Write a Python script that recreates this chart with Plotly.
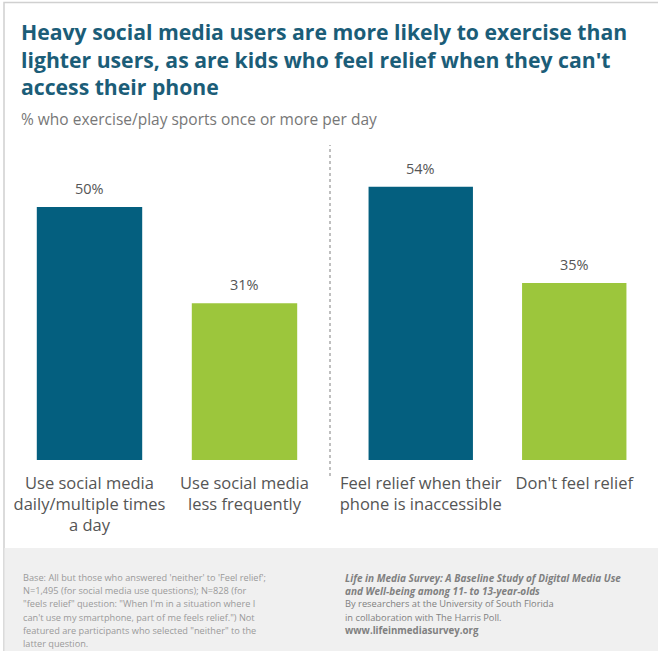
import plotly.graph_objects as go

# Survey results: % who exercise/play sports once or more per day
media_labels = ["Use social media<br>daily/multiple times<br>a day", "Use social media<br>less frequently"]
media_values = [50, 31]
relief_labels = ["Feel relief when their<br>phone is inaccessible", "Don't feel relief"]
relief_values = [54, 35]

base_note_lines = [
    "Base: All but those who answered 'neither' to 'Feel relief';",
    "N=1,495 (for social media use questions); N=828 (for",
    "\"feels relief\" question: \"When I'm in a situation where I",
    "can't use my smartphone, part of me feels relief.\") Not",
    "featured are participants who selected \"neither\" to the",
    "latter question.",
]
source_lines = [
    ("<b><i>Life in Media Survey: A Baseline Study of Digital Media Use</i></b>", 10),
    ("<b><i>and Well-being among 11- to 13-year-olds</i></b>", 10),
    ("By researchers at the University of South Florida", 9.3),
    ("in collaboration with The Harris Poll.", 9.3),
    ("<b>www.lifeinmediasurvey.org</b>", 9.7),
]

TEAL = "#045f7f"
GREEN = "#9cc63c"
LABEL_GRAY = "#555555"

W, H = 658, 651
BASE_PX = 460          # baseline of bars (px from top)
PX_PER_PCT = 5.06
Y_MAX = 60

y0 = (H - BASE_PX) / H
y1 = (H - (BASE_PX - Y_MAX * PX_PER_PCT)) / H

fig = go.Figure()
fig.add_trace(go.Bar(x=media_labels, y=media_values, marker=dict(color=[TEAL, GREEN], line=dict(width=0)),
                     xaxis="x", yaxis="y", hoverinfo="skip"))
fig.add_trace(go.Bar(x=relief_labels, y=relief_values, marker=dict(color=[TEAL, GREEN], line=dict(width=0)),
                     xaxis="x2", yaxis="y2", hoverinfo="skip"))

axis_common = dict(showgrid=False, zeroline=False, showline=False, ticks="", ticklabelstandoff=11,
                   automargin=False,
                   tickfont=dict(family="Open Sans", size=16.5, color=LABEL_GRAY), fixedrange=True)
yaxis_common = dict(range=[0, Y_MAX], visible=False, fixedrange=True, domain=[y0, y1], automargin=False)

fig.update_layout(
    width=W, height=H,
    margin=dict(l=0, r=0, t=0, b=0),
    paper_bgcolor="white", plot_bgcolor="rgba(0,0,0,0)",
    showlegend=False, bargap=0.32,
    xaxis=dict(domain=[12 / W, 322 / W], **axis_common),
    xaxis2=dict(domain=[344 / W, 651 / W], anchor="y2", **axis_common),
    yaxis=dict(anchor="x", **yaxis_common),
    yaxis2=dict(anchor="x2", **yaxis_common),
    font=dict(family="Open Sans"),
)

# value labels above bars
for xa, ya, cats, vals in [("x", "y", media_labels, media_values), ("x2", "y2", relief_labels, relief_values)]:
    for c, v in zip(cats, vals):
        fig.add_annotation(x=c, y=v, xref=xa, yref=ya, text=f"{v}%", showarrow=False,
                           yanchor="bottom", yshift=7,
                           font=dict(family="Open Sans", size=14.5, color=LABEL_GRAY))

# outer frame
fig.add_shape(type="rect", xref="paper", yref="paper", x0=4 / W, x1=1.2, y0=-0.1, y1=(H - 2.5) / H,
              line=dict(color="#d0d0d0", width=1.5), fillcolor="rgba(0,0,0,0)", layer="below")
# footer band
fig.add_shape(type="rect", xref="paper", yref="paper", x0=4.5 / W, x1=1, y0=0, y1=(H - 548) / H,
              line=dict(width=0), fillcolor="#f0f0f0", layer="below")
# dotted divider between the two groups
fig.add_shape(type="line", xref="paper", yref="paper", x0=330 / W, x1=330 / W,
              y0=(H - 476) / H, y1=(H - 145) / H, line=dict(color="#aaaaaa", width=1.5, dash="dot"))

# title and subtitle
fig.add_annotation(xref="paper", yref="paper", x=19 / W, y=(H - 15) / H, xanchor="left", yanchor="top",
                   align="left", showarrow=False,
                   text="<b>Heavy social media users are more likely to exercise than<br>"
                        "lighter users, as are kids who feel relief when they can't<br>"
                        "access their phone</b>",
                   font=dict(family="Open Sans", size=21.2, color="#1b5d78"))
fig.add_annotation(xref="paper", yref="paper", x=19 / W, y=(H - 106) / H, xanchor="left", yanchor="top",
                   align="left", showarrow=False,
                   text="% who exercise/play sports once or more per day",
                   font=dict(family="Open Sans", size=15.5, color="#777777"))

# footer notes, one line at a time for even spacing
LINE_STEP = 13.2
FIRST_LINE = 577.5
for i, line in enumerate(base_note_lines):
    fig.add_annotation(xref="paper", yref="paper", x=21 / W, y=(H - FIRST_LINE - i * LINE_STEP) / H,
                       xanchor="left", yanchor="middle", align="left", showarrow=False, text=line,
                       font=dict(family="Open Sans", size=9.2, color="#9a9a9a"))
for i, (line, size) in enumerate(source_lines):
    fig.add_annotation(xref="paper", yref="paper", x=343 / W, y=(H - FIRST_LINE - i * LINE_STEP) / H,
                       xanchor="left", yanchor="middle", align="left", showarrow=False, text=line,
                       font=dict(family="Open Sans", size=size, color="#808080"))

fig.write_html("out.html")
